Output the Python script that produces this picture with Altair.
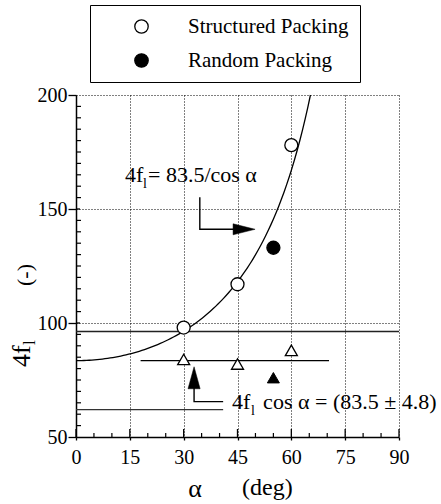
import altair as alt
import numpy as np
import pandas as pd

SERIF = "'Liberation Serif', 'Times New Roman', serif"

# Friction factor 4f_l against inclination angle alpha (deg)
struct_alpha = [30, 45, 60]
struct_4f = [98, 117, 178]
random_alpha = [55]
random_4f = [133]

# Product 4f_l * cos(alpha)
struct_cos = [84, 82, 88]
random_cos = [76]

FIT_C = 83.5            # 4f_l cos(alpha) = 83.5 +/- 4.8
band_upper = 96.3
band_lower = 62.0
mean_span = [18, 70.5]
lower_span = [0, 41]

x_major = [0, 15, 30, 45, 60, 75, 90]
y_major = [50, 100, 150, 200]
x_minor = [v for v in range(5, 90, 5) if v % 15]
y_minor = [v for v in range(55, 200, 5) if v % 50]

W, H = 323, 342
XS = alt.Scale(domain=[0, 90], nice=False, zero=False)
YS = alt.Scale(domain=[50, 200], nice=False, zero=False)


def xq(field, axis=None):
    return alt.X(field, type="quantitative", scale=XS, axis=axis)


def yq(field, axis=None):
    return alt.Y(field, type="quantitative", scale=YS, axis=axis)


# ---- axes -------------------------------------------------------------
ax_x_main = alt.Axis(orient="bottom", values=x_major, grid=True, gridDash=[1, 2],
                     gridColor="black", gridWidth=1, domainColor="black", domainWidth=1.5,
                     tickColor="black", tickSize=3, tickWidth=1.3, labelFont=SERIF,
                     labelFontSize=20, labelColor="black", labelPadding=7,
                     labelFlush=False, labelOverlap=False, title=None)
ax_y_main = alt.Axis(orient="left", values=y_major, grid=True, gridDash=[1, 2],
                     gridColor="black", gridWidth=1, domainColor="black", domainWidth=1.5,
                     tickColor="black", tickSize=8, tickWidth=1.3, labelFont=SERIF,
                     labelFontSize=20, labelColor="black", labelPadding=1,
                     labelFlush=False, labelOverlap=False, title=None)

# inward tick marks along the bottom and left edges
xt_major = alt.Chart(pd.DataFrame({"a": x_major})).mark_rule(
    color="black", strokeWidth=1.3).encode(x=xq("a"), y=alt.value(H), y2=alt.value(H - 8))
xt_minor = alt.Chart(pd.DataFrame({"a": x_minor})).mark_rule(
    color="black", strokeWidth=1.2).encode(x=xq("a"), y=alt.value(H), y2=alt.value(H - 4))
yt_minor = alt.Chart(pd.DataFrame({"f": y_minor})).mark_rule(
    color="black", strokeWidth=1.2).encode(y=yq("f"), x=alt.value(0), x2=alt.value(5))
yt_major = alt.Chart(pd.DataFrame({"f": y_major[1:3]})).mark_rule(
    color="black", strokeWidth=1.3).encode(y=yq("f"), x=alt.value(0), x2=alt.value(4))

# ---- fitted curve 4f_l = 83.5 / cos(alpha), up to the top of the frame --
a_end = float(np.degrees(np.arccos(FIT_C / 200.0)))
fit_alpha = np.linspace(0, a_end, 90)
fit_df = pd.DataFrame({"a": fit_alpha, "f": FIT_C / np.cos(np.radians(fit_alpha))})
curve = alt.Chart(fit_df).mark_line(color="black", strokeWidth=1.3).encode(
    x=xq("a", ax_x_main), y=yq("f", ax_y_main))

# ---- horizontal reference lines ----------------------------------------
upper_df = pd.DataFrame({"a": [0], "a2": [90], "f": [band_upper]})
upper = alt.Chart(upper_df).mark_rule(color="#222", strokeWidth=1.4).encode(
    x=xq("a"), x2="a2", y=yq("f"))

lower_df = pd.DataFrame({"a": [lower_span[0]], "a2": [lower_span[1]], "f": [band_lower]})
lower = alt.Chart(lower_df).mark_rule(color="#333", strokeWidth=1.3).encode(
    x=xq("a"), x2="a2", y=yq("f"))

mean_df = pd.DataFrame({"a": [mean_span[0]], "a2": [mean_span[1]], "f": [FIT_C]})
mean_line = alt.Chart(mean_df).mark_rule(color="black", strokeWidth=1.4).encode(
    x=xq("a"), x2="a2", y=yq("f"))

# ---- annotation arrows ----------------------------------------------------
arrow1_df = pd.DataFrame({"a": [34.5, 34.5, 45.0], "f": [155.1, 141.1, 141.1], "o": [0, 1, 2]})
arrow2_df = pd.DataFrame({"a": [41.0, 32.9, 32.9], "f": [65.5, 65.5, 75.0], "o": [0, 1, 2]})
stems = [
    alt.Chart(d).mark_line(color="black", strokeWidth=1.4).encode(
        x=xq("a"), y=yq("f"), order="o:Q")
    for d in (arrow1_df, arrow2_df)
]
head_right = alt.Chart(pd.DataFrame({"a": [49.9], "f": [141.1]})).mark_point(
    shape="M0,0L-2,-0.5L-2,0.5Z", size=484, filled=True, fill="black",
    stroke="black", strokeWidth=0.5, opacity=1).encode(x=xq("a"), y=yq("f"))
head_up = alt.Chart(pd.DataFrame({"a": [32.9], "f": [80.8]})).mark_point(
    shape="M0,0L-0.55,2L0.55,2Z", size=484, filled=True, fill="black",
    stroke="black", strokeWidth=0.5, opacity=1).encode(x=xq("a"), y=yq("f"))

# ---- measured points ------------------------------------------------------
pts_df = pd.DataFrame({
    "a": struct_alpha + random_alpha,
    "f": struct_4f + random_4f,
    "packing": ["Structured Packing"] * len(struct_alpha) + ["Random Packing"] * len(random_alpha),
})
legend = alt.Legend(orient="none", legendX=14, legendY=-90, title=None,
                    strokeColor="black", fillColor="white", padding=11, rowPadding=12,
                    symbolType="circle", symbolSize=180, symbolStrokeColor="black",
                    symbolStrokeWidth=1.3, symbolOffset=30, labelOffset=36,
                    labelFont=SERIF, labelFontSize=21, labelColor="black", labelLimit=400)
circles = alt.Chart(pts_df).mark_point(shape="circle", size=169, filled=True,
                                       stroke="black", strokeWidth=1.3, opacity=1).encode(
    x=xq("a"), y=yq("f"),
    fill=alt.Fill("packing:N", scale=alt.Scale(domain=["Structured Packing", "Random Packing"],
                                               range=["white", "black"]), legend=legend))

tri_open = alt.Chart(pd.DataFrame({"a": struct_alpha, "f": struct_cos})).mark_point(
    shape="triangle-up", size=144, filled=True, fill="white", stroke="black",
    strokeWidth=1.3, opacity=1).encode(x=xq("a"), y=yq("f"))
tri_fill = alt.Chart(pd.DataFrame({"a": random_alpha, "f": random_cos})).mark_point(
    shape="triangle-up", size=144, filled=True, fill="black", stroke="black",
    strokeWidth=1.0, opacity=1).encode(x=xq("a"), y=yq("f"))


# ---- text -------------------------------------------------------------------
def data_text(a, f, text, size, dx=0, dy=0):
    return alt.Chart(pd.DataFrame({"a": [a], "f": [f], "t": [text]})).mark_text(
        font=SERIF, fontSize=size, align="left", baseline="alphabetic", color="black",
        dx=dx, dy=dy).encode(x=xq("a"), y=yq("f"), text="t:N")


def px_text(x, y, text, size, angle=0, align="left", baseline="alphabetic"):
    return alt.Chart(pd.DataFrame({"t": [text]})).mark_text(
        font=SERIF, fontSize=size, align=align, baseline=baseline, angle=angle,
        color="black").encode(x=alt.value(x), y=alt.value(y), text="t:N")


texts = [
    # 4f_l = 83.5/cos(alpha)
    data_text(13.65, 161.7, "4f", 22),
    data_text(13.65, 161.7, "l", 14, dx=18, dy=6),
    data_text(13.65, 161.7, "= 83.5/cos \u03b1", 22, dx=23),
    # 4f_l cos(alpha) = (83.5 +/- 4.8)
    data_text(43.5, 62.3, "4f", 22),
    data_text(43.5, 62.3, "l", 14, dx=19, dy=6),
    data_text(43.5, 62.3, "cos \u03b1 = (83.5 \u00b1 4.8)", 22, dx=31),
    # axis titles
    px_text(119, 394, "\u03b1", 26, align="center", baseline="middle"),
    px_text(166, 393, "(deg)", 24, baseline="middle"),
    px_text(-46, 272, "4f", 26, angle=270),
    px_text(-41, 250, "l", 17, angle=270),
    px_text(-51, 180, "(-)", 22, angle=270, align="center", baseline="middle"),
]

chart = alt.layer(
    curve, upper, lower, mean_line, xt_major, xt_minor, yt_minor, yt_major,
    *stems, head_right, head_up, tri_open, tri_fill, circles, *texts,
).resolve_axis(x="independent", y="independent").properties(
    width=W, height=H,
    padding={"left": 76, "top": 95, "right": 42, "bottom": 67},
    autosize=alt.AutoSizeParams(type="none"),
    background="white",
).configure_view(stroke=None)

chart.save("out.html", embed_options={"renderer": "svg", "actions": False})
